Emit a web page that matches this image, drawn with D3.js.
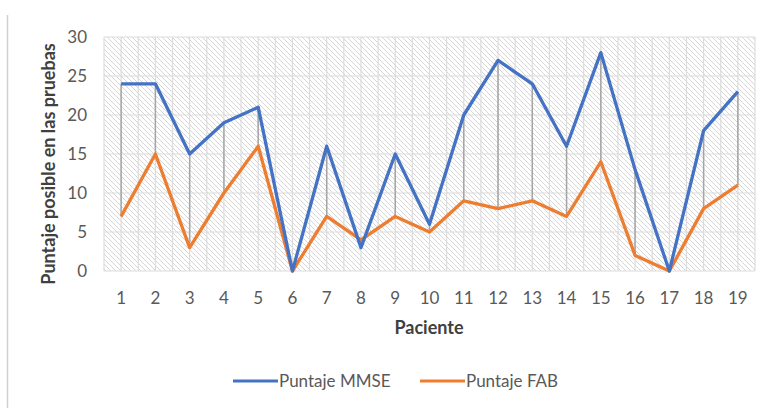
<!DOCTYPE html>
<html><head><meta charset="utf-8">
<script src="https://cdn.jsdelivr.net/npm/d3@7"></script>
<style>body{margin:0;background:#fff;} text{font-family:Lato, "Open Sans", sans-serif;}</style>
</head><body>
<svg id="c" width="766" height="408"></svg>
<script>
const pacientes = ["1","2","3","4","5","6","7","8","9","10","11","12","13","14","15","16","17","18","19"];
const mmse = [24,24,15,19,21,0,16,3,15,6,20,27,24,16,28,13,0,18,23];
const fab = [7,15,3,10,16,0,7,4,7,5,9,8,9,7,14,2,0,8,11];
const yTicks = [0,5,10,15,20,25,30];
const seriesNames = ["Puntaje MMSE","Puntaje FAB"];
const colors = ["#4472C4","#ED7D31"];

const svg = d3.select("#c");
const L=104, R=755, T=37, B=271;
const x = d3.scaleBand().domain(pacientes).range([L,R]);
const y = d3.scaleLinear().domain([0,30]).range([B,T]);

const defs = svg.append("defs");
const pat = defs.append("pattern").attr("id","hatch").attr("patternUnits","userSpaceOnUse")
  .attr("width",5).attr("height",5);
pat.append("rect").attr("width",5).attr("height",5).attr("fill","#fff");
pat.append("path").attr("d","M-1,-1 L6,6 M-1,4 L1,6 M4,-1 L6,1").attr("stroke","#d6d6d6").attr("stroke-width",1);

// left frame line
svg.append("line").attr("x1",7.5).attr("x2",7.5).attr("y1",15).attr("y2",408).attr("stroke","#d0d0d0").attr("stroke-width",1.5);

svg.append("rect").attr("x",L).attr("y",T).attr("width",R-L).attr("height",B-T).attr("fill","url(#hatch)");

// vertical gridlines every half band
const half = [];
pacientes.forEach(p=>{ half.push(x(p)); half.push(x(p)+x.bandwidth()/2); });
half.push(R);
svg.append("g").selectAll("line").data(half).join("line")
  .attr("x1",d=>d).attr("x2",d=>d).attr("y1",T).attr("y2",B)
  .attr("stroke","#dcdcdc").attr("stroke-width",1.2);
svg.append("g").selectAll("line").data(yTicks).join("line")
  .attr("x1",L).attr("x2",R).attr("y1",d=>y(d)).attr("y2",d=>y(d))
  .attr("stroke","#dcdcdc").attr("stroke-width",1.2);

// axes labels
const yAxis = d3.axisLeft(y).tickValues(yTicks).tickSize(0).tickPadding(17);
const gy = svg.append("g").attr("transform",`translate(${L},0)`).call(yAxis);
gy.select(".domain").remove();
gy.selectAll("text").attr("font-size",17).attr("fill","#595959");

const xAxis = d3.axisBottom(x).tickSize(0).tickPadding(33);
const gx = svg.append("g").attr("transform",`translate(0,${B})`).call(xAxis);
gx.select(".domain").remove();
gx.selectAll("text").attr("font-size",17).attr("fill","#595959").attr("dy","0");

// high-low lines
const cx = p => x(p)+x.bandwidth()/2;
svg.append("g").selectAll("line").data(pacientes).join("line")
  .attr("x1",cx).attr("x2",cx)
  .attr("y1",(p,i)=>y(Math.max(mmse[i],fab[i])))
  .attr("y2",(p,i)=>y(Math.min(mmse[i],fab[i])))
  .attr("stroke","#a5a5a5").attr("stroke-width",1.5);

const line = d3.line().x((d,i)=>cx(pacientes[i])).y(d=>y(d));
[fab, mmse].forEach((s,k)=>{
  const c = s===mmse?colors[0]:colors[1];
  svg.append("path").attr("d",line(s)).attr("fill","none").attr("stroke",c)
    .attr("stroke-width",3.3).attr("stroke-linejoin","round");
});

svg.append("text").attr("x",429).attr("y",334).attr("text-anchor","middle")
  .attr("font-size",18).attr("font-weight","bold").attr("fill","#404040").text("Paciente");
svg.append("text").attr("transform",`translate(55,164) rotate(-90)`).attr("text-anchor","middle")
  .attr("font-size",18).attr("font-weight","bold").attr("fill","#404040").text("Puntaje posible en las pruebas");

// legend
const lg = [{x:233,name:seriesNames[0],c:colors[0]},{x:420,name:seriesNames[1],c:colors[1]}];
lg.forEach(d=>{
  svg.append("line").attr("x1",d.x).attr("x2",d.x+45).attr("y1",381).attr("y2",381).attr("stroke",d.c).attr("stroke-width",3);
  svg.append("text").attr("x",d.x+46).attr("y",387).attr("font-size",17).attr("fill","#595959").text(d.name);
});
</script>
</body></html>
